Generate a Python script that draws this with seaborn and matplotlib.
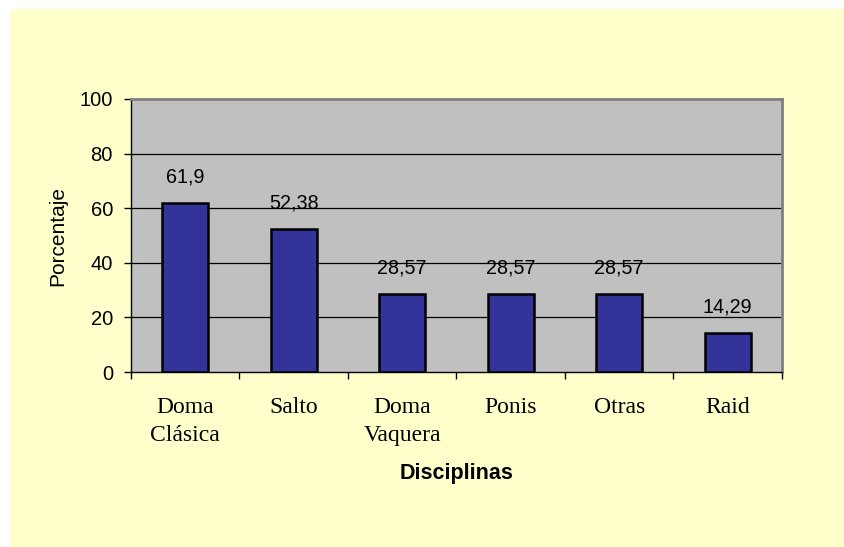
import pandas as pd
import seaborn as sns
import matplotlib.pyplot as plt
from matplotlib.patches import Rectangle

disciplinas = ['Doma\nClásica', 'Salto', 'Doma\nVaquera', 'Ponis', 'Otras', 'Raid']
porcentaje = [61.9, 52.38, 28.57, 28.57, 28.57, 14.29]
y_ticks = [0, 20, 40, 60, 80, 100]

df = pd.DataFrame({'Disciplinas': disciplinas, 'Porcentaje': porcentaje})

sans = 'Liberation Sans'
serif = 'Liberation Serif'

fig = plt.figure(figsize=(8.45, 5.47), dpi=100, facecolor='white')
# yellow chart area (white strip on the top and left)
fig.patches.append(Rectangle((10/845, 0), 1, 1 - 9/547, transform=fig.transFigure,
                             facecolor='#FFFFCC', edgecolor='none', zorder=-1))

ax = fig.add_axes([131/845, 1 - 372/547, 651/845, 273/547])
ax.set_facecolor('#C0C0C0')

sns.barplot(data=df, x='Disciplinas', y='Porcentaje', color='#333399', saturation=1,
            width=0.42, edgecolor='black', linewidth=1.8, ax=ax, zorder=3)

# value labels with comma decimal
labels = [str(v).replace('.', ',') for v in porcentaje]
ax.bar_label(ax.containers[0], labels=labels, padding=12, fontsize=14.2, family=sans)

ax.set_ylim(0, 100)
ax.set_xlim(-0.5, len(disciplinas) - 0.5)
ax.set_yticks(y_ticks)
ax.set_yticklabels([str(t) for t in y_ticks], fontsize=14.5, family=sans)
ax.tick_params(axis='y', direction='out', length=5, width=1, pad=8)

ax.set_xticks(range(len(disciplinas)))
ax.set_xticklabels(disciplinas, fontsize=17, family=serif, linespacing=1.45)
ax.tick_params(axis='x', which='major', length=0, pad=18)
ax.set_xticks([i - 0.5 for i in range(len(disciplinas) + 1)], minor=True)
ax.tick_params(axis='x', which='minor', direction='out', length=5, width=1)

for yv in y_ticks[1:-1]:
    ax.axhline(yv, color='black', lw=0.9, zorder=1)

for s in ['top', 'right']:
    ax.spines[s].set_color('#808080')
    ax.spines[s].set_linewidth(2)
for s in ['left', 'bottom']:
    ax.spines[s].set_color('black')
    ax.spines[s].set_linewidth(1)

ax.set_xlabel('Disciplinas', fontsize=15.5, fontweight='bold', family=sans)
ax.xaxis.set_label_coords(0.5, (372 - 473) / 273)
ax.xaxis.label.set_va('center')
ax.set_ylabel('Porcentaje', fontsize=15, family=sans)
ax.yaxis.set_label_coords((58 - 131) / 651, 0.5)
ax.yaxis.label.set_va('center')

fig.savefig('out.png', dpi=100)
